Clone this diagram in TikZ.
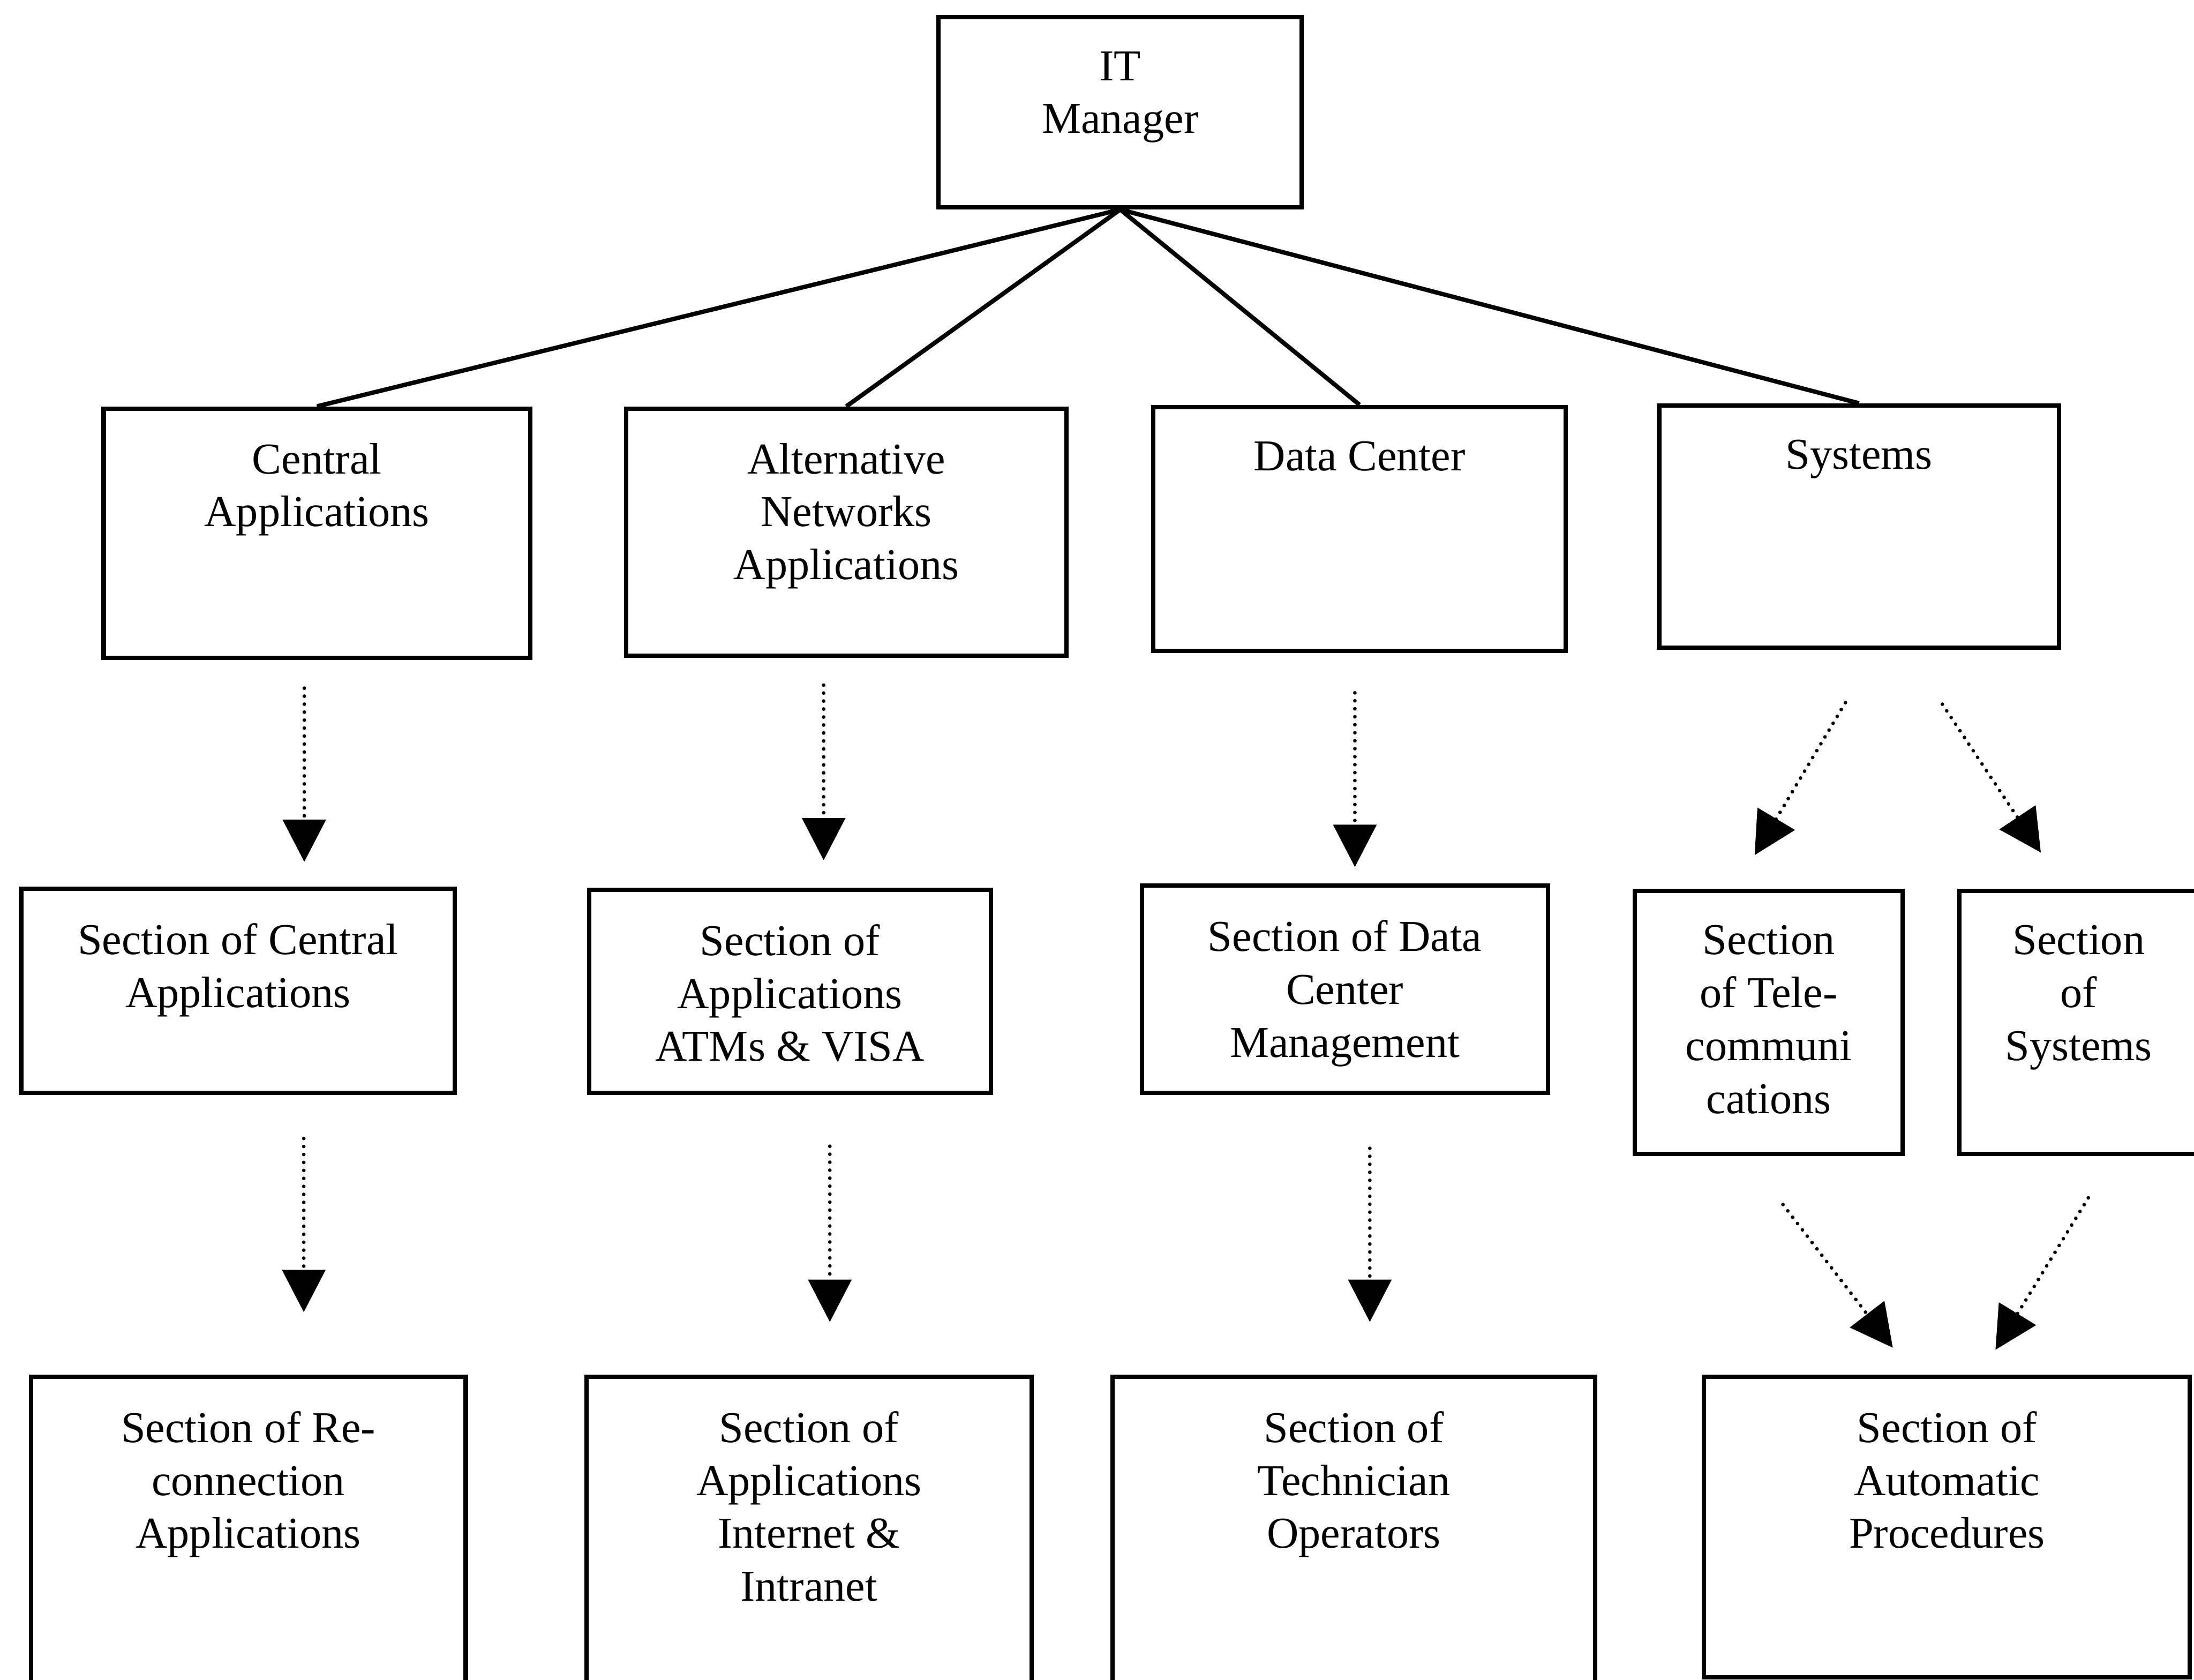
\documentclass[tikz,border=0pt]{standalone}
\usepackage{fontspec}
\setmainfont{Liberation Serif}
\usetikzlibrary{arrows.meta}
\begin{document}
\begin{tikzpicture}[y=-1cm,
    unit/.style 2 args={draw, line width=2.4pt, inner sep=0pt,
      font=\fontsize{24.3}{29.2}\selectfont,
      execute at begin node={\begin{minipage}[t][#2][t]{#1}\centering\vspace*{0.67cm}},
      execute at end node={\end{minipage}}},
    tie/.style={line width=2.4pt},
    flow/.style={line width=2pt, line cap=round, dash pattern=on 0pt off 4.4pt,
      -{Triangle[length=0.82cm,width=0.83cm]}}]
            \useasboundingbox (0,0) rectangle (42.54,32.56);
            \node [unit={7.04cm}{3.69cm}] (itm) at (21.72,2.175) {IT\\Manager};
            \node [unit={8.27cm}{4.83cm}] (ca) at (6.145,10.335) {Central\\Applications};
            \node [unit={8.54cm}{4.79cm}] (an) at (16.41,10.315) {Alternative\\Networks\\Applications};
            \node [unit={8.0cm}{4.73cm}] (dc) at (26.36,10.255) {Data Center};
            \node [unit={7.75cm}{4.70cm}] (sy) at (36.045,10.21) {Systems};
            \node [unit={8.41cm}{3.96cm}] (sca) at (4.615,19.21) {Section of Central\\Applications};
            \node [unit={7.79cm}{3.94cm}] (saa) at (15.315,19.22) {Section of\\Applications\\ATMs \& VISA};
            \node [unit={7.87cm}{4.02cm}] (sdc) at (26.075,19.18) {Section of Data\\Center\\Management};
            \node [unit={5.19cm}{5.10cm}] (stc) at (34.295,19.82) {Section\\of Tele-\\communi\\cations};
            \node [unit={4.63cm}{5.10cm}] (ssy) at (40.305,19.82) {Section\\of\\Systems};
            \node [unit={8.43cm}{5.93cm}] (src) at (4.815,29.655) {Section of Re-\\connection\\Applications};
            \node [unit={8.63cm}{5.93cm}] (sai) at (15.685,29.655) {Section of\\Applications\\Internet \&\\Intranet};
            \node [unit={9.36cm}{5.93cm}] (sto) at (26.25,29.655) {Section of\\Technician\\Operators};
            \node [unit={9.42cm}{5.83cm}] (sap) at (37.75,29.605) {Section of\\Automatic\\Procedures};
            \draw [tie] (itm.south) -- (ca.north);
            \draw [tie] (itm.south) -- (an.north);
            \draw [tie] (itm.south) -- (dc.north);
            \draw [tie] (itm.south) -- (sy.north);
            \draw [flow] ([xshift=-0.245cm,yshift=-0.55cm]ca.south) -- ([xshift=1.285cm,yshift=0.48cm]sca.north);
            \draw [flow] ([xshift=-0.44cm,yshift=-0.53cm]an.south) -- ([xshift=0.655cm,yshift=0.53cm]saa.north);
            \draw [flow] ([xshift=-0.09cm,yshift=-0.77cm]dc.south) -- ([xshift=0.195cm,yshift=0.32cm]sdc.north);
            \draw [flow] ([xshift=-0.265cm,yshift=-1.02cm]sy.south) -- ([xshift=-0.275cm,yshift=0.65cm]stc.north);
            \draw [flow] ([xshift=1.615cm,yshift=-1.05cm]sy.south) -- ([xshift=-0.735cm,yshift=0.70cm]ssy.north);
            \draw [flow] ([xshift=1.275cm,yshift=-0.84cm]sca.south) -- ([xshift=1.075cm,yshift=1.21cm]src.north);
            \draw [flow] ([xshift=0.775cm,yshift=-0.99cm]saa.south) -- ([xshift=0.405cm,yshift=1.02cm]sai.north);
            \draw [flow] ([xshift=0.485cm,yshift=-1.03cm]sdc.south) -- ([xshift=0.31cm,yshift=1.02cm]sto.north);
            \draw [flow] ([xshift=0.275cm,yshift=-0.94cm]stc.south) -- ([xshift=-1.05cm,yshift=0.52cm]sap.north);
            \draw [flow] ([xshift=0.185cm,yshift=-0.81cm]ssy.south) -- ([xshift=0.94cm,yshift=0.48cm]sap.north);
\end{tikzpicture}
\end{document}
